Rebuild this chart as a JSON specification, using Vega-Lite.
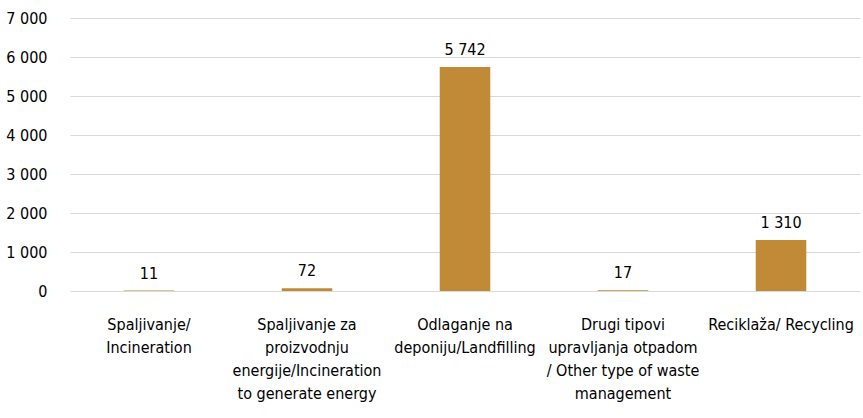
{
  "$schema": "https://vega.github.io/schema/vega-lite/v6.json",
  "width": 790,
  "height": 273,
  "autosize": {"type": "none"},
  "padding": {"left": 70, "top": 18, "right": 3, "bottom": 127},
  "background": "white",
  "config": {
    "locale": {"number": {"decimal": ",", "thousands": " ", "grouping": [3], "currency": ["", ""]}},
    "view": {"stroke": null},
    "font": "DejaVu Sans Condensed"
  },
  "data": {
    "values": [
      {"category": "Spaljivanje/\nIncineration", "value": 11},
      {"category": "Spaljivanje za\nproizvodnju\nenergije/Incineration\nto generate energy", "value": 72},
      {"category": "Odlaganje na\ndeponiju/Landfilling", "value": 5742},
      {"category": "Drugi tipovi\nupravljanja otpadom\n/ Other type of waste\nmanagement", "value": 17},
      {"category": "Reciklaža/ Recycling", "value": 1310}
    ]
  },
  "encoding": {
    "x": {
      "field": "category", "type": "nominal", "sort": null,
      "scale": {"paddingInner": 0.68, "paddingOuter": 0.34},
      "axis": {
        "title": null, "labelAngle": 0, "domain": false, "ticks": false,
        "labelExpr": "split(datum.value, '\\n')",
        "labelFont": "DejaVu Sans Condensed", "labelFontSize": 16, "labelColor": "#000000",
        "labelLineHeight": 23, "labelPadding": 25, "labelBaseline": "top", "labelLimit": 300
      }
    },
    "y": {
      "field": "value", "type": "quantitative",
      "scale": {"domain": [0, 7000]},
      "axis": {
        "title": null, "values": [0, 1000, 2000, 3000, 4000, 5000, 6000, 7000], "format": ",d",
        "domain": false, "ticks": false, "grid": true, "gridColor": "#d9d9d9", "gridWidth": 1,
        "labelFont": "DejaVu Sans Condensed", "labelFontSize": 16, "labelColor": "#000000", "labelPadding": 23
      }
    }
  },
  "layer": [
    {"mark": {"type": "bar", "color": "#C08A36"}},
    {"mark": {"type": "text", "baseline": "alphabetic", "dy": -12, "fontSize": 16, "font": "DejaVu Sans Condensed", "color": "#000000"},
     "encoding": {"text": {"field": "value", "type": "quantitative", "format": ",d"}}}
  ]
}
